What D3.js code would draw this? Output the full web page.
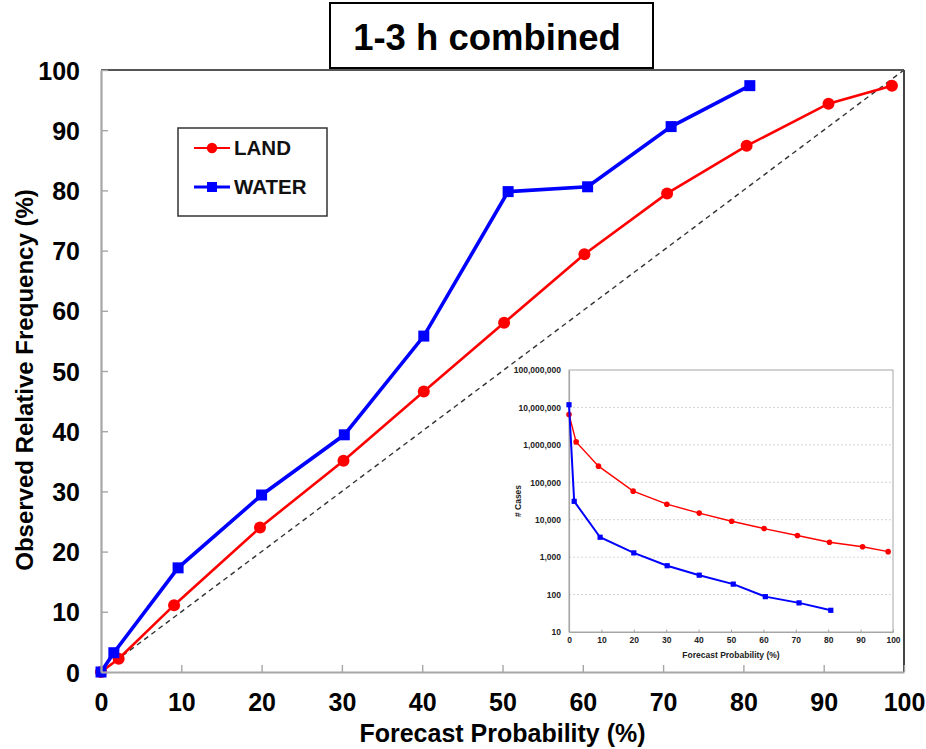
<!DOCTYPE html>
<html>
<head>
<meta charset="utf-8">
<script src="https://cdn.jsdelivr.net/npm/d3@7"></script>
<style>
  html, body { margin: 0; padding: 0; background: #fff; }
  svg { display: block; font-family: Arial, "Liberation Sans", Helvetica, sans-serif; }
</style>
</head>
<body>
<svg id="chart" width="926" height="749"></svg>
<script>
// ---- Reliability data: forecast probability vs observed relative frequency ----
const landProb  = [0, 2.2, 9.1, 19.8, 30.2, 40.2, 50.2, 60.2, 70.5, 80.4, 90.6, 98.5];
const landFreq  = [0, 2.2, 11.1, 24.0, 35.1, 46.6, 58.0, 69.4, 79.5, 87.4, 94.4, 97.4];
const waterProb = [0, 1.6, 9.6, 20.0, 30.3, 40.2, 50.7, 60.6, 71.0, 80.8];
const waterFreq = [0, 3.2, 17.3, 29.4, 39.4, 55.8, 79.8, 80.6, 90.6, 97.4];

// Number of cases per probability bin (inset, log scale)
const landCases  = [6500000, 1200000, 270000, 58000, 26000, 15000, 9100, 5800, 3800, 2500, 1900, 1400];
const waterCases = [11800000, 31000, 3400, 1300, 590, 330, 190, 88, 60, 38];

const mainTicks  = [0, 10, 20, 30, 40, 50, 60, 70, 80, 90, 100];
const insetXTicks = [0, 10, 20, 30, 40, 50, 60, 70, 80, 90, 100];
const insetYTicks = [10, 100, 1000, 10000, 100000, 1000000, 10000000, 100000000];

const seriesNames = ["LAND", "WATER"];
const seriesColors = ["#ff0000", "#0000ff"];

const svg = d3.select("#chart");

// ---- main scales ----
const x = d3.scaleLinear().domain([0, 100]).range([101, 904]);
const y = d3.scaleLinear().domain([0, 100]).range([672, 70]);

// perfect-reliability diagonal
svg.append("line")
  .attr("x1", x(0)).attr("y1", y(0))
  .attr("x2", x(100)).attr("y2", y(100))
  .attr("stroke", "#333").attr("stroke-width", 1.4)
  .attr("stroke-dasharray", "5,4");

const line = d3.line().x(d => x(d[0])).y(d => y(d[1]));

const landPts  = landProb.map((p, i) => [p, landFreq[i]]);
const waterPts = waterProb.map((p, i) => [p, waterFreq[i]]);

// LAND series
svg.append("path").datum(landPts)
  .attr("d", line).attr("fill", "none")
  .attr("stroke", seriesColors[0]).attr("stroke-width", 2.6);
svg.selectAll("circle.land").data(landPts).enter().append("circle")
  .attr("class", "land")
  .attr("cx", d => x(d[0])).attr("cy", d => y(d[1]))
  .attr("r", 6).attr("fill", seriesColors[0]);

// WATER series
svg.append("path").datum(waterPts)
  .attr("d", line).attr("fill", "none")
  .attr("stroke", seriesColors[1]).attr("stroke-width", 3.6);
svg.selectAll("rect.water").data(waterPts).enter().append("rect")
  .attr("class", "water")
  .attr("x", d => x(d[0]) - 5.5).attr("y", d => y(d[1]) - 5.5)
  .attr("width", 11).attr("height", 11).attr("fill", seriesColors[1]);

// ---- inset: number of cases ----
const inset = svg.append("g");
inset.append("rect")
  .attr("x", 515).attr("y", 366).attr("width", 389).attr("height", 305)
  .attr("fill", "#fff");

const ix = d3.scaleLinear().domain([0, 100]).range([569, 893]);
const iy = d3.scaleLog().domain([10, 1e8]).range([632, 370]);

// dashed grid lines at each decade
inset.selectAll("line.grid").data(insetYTicks.slice(1, -1)).enter().append("line")
  .attr("class", "grid")
  .attr("x1", ix(0)).attr("x2", ix(100))
  .attr("y1", d => iy(d)).attr("y2", d => iy(d))
  .attr("stroke", "#c8c8c8").attr("stroke-width", 0.8)
  .attr("stroke-dasharray", "2,2");

// inset frame
inset.append("rect")
  .attr("x", ix(0)).attr("y", iy(1e8))
  .attr("width", ix(100) - ix(0)).attr("height", iy(10) - iy(1e8))
  .attr("fill", "none").attr("stroke", "#a6a6a6").attr("stroke-width", 1);

const ixAxis = inset.append("g")
  .attr("transform", `translate(0,${iy(10)})`)
  .call(d3.axisBottom(ix).tickValues(insetXTicks).tickSize(-2.5).tickSizeOuter(0).tickPadding(5));
const iyAxis = inset.append("g")
  .attr("transform", `translate(${ix(0)},0)`)
  .call(d3.axisLeft(iy).tickValues(insetYTicks).tickFormat(d3.format(",")).tickSize(0).tickPadding(8));
[ixAxis, iyAxis].forEach(g => {
  g.select(".domain").attr("stroke", "#a6a6a6").attr("stroke-width", 1.2);
  g.selectAll(".tick line").attr("stroke", "#a6a6a6");
  g.selectAll(".tick text")
    .attr("fill", "#222").attr("font-size", 8.5).attr("font-weight", "bold")
    .attr("font-family", "Arial, 'Liberation Sans', sans-serif");
});

inset.append("text")
  .attr("x", (ix(0) + ix(100)) / 2).attr("y", 658)
  .attr("text-anchor", "middle").attr("font-size", 8.5).attr("font-weight", "bold")
  .attr("fill", "#222").text("Forecast Probability (%)");
inset.append("text")
  .attr("transform", `translate(521,${(iy(10) + iy(1e8)) / 2}) rotate(-90)`)
  .attr("text-anchor", "middle").attr("font-size", 8.5).attr("font-weight", "bold")
  .attr("fill", "#222").text("# Cases");

const iline = d3.line().x(d => ix(d[0])).y(d => iy(d[1]));
const landCasePts  = landProb.map((p, i) => [p, landCases[i]]);
const waterCasePts = waterProb.map((p, i) => [p, waterCases[i]]);

inset.append("path").datum(landCasePts)
  .attr("d", iline).attr("fill", "none")
  .attr("stroke", seriesColors[0]).attr("stroke-width", 1.4);
inset.selectAll("circle.lc").data(landCasePts).enter().append("circle")
  .attr("class", "lc")
  .attr("cx", d => ix(d[0])).attr("cy", d => iy(d[1]))
  .attr("r", 2.8).attr("fill", seriesColors[0]);

inset.append("path").datum(waterCasePts)
  .attr("d", iline).attr("fill", "none")
  .attr("stroke", seriesColors[1]).attr("stroke-width", 2);
inset.selectAll("rect.wc").data(waterCasePts).enter().append("rect")
  .attr("class", "wc")
  .attr("x", d => ix(d[0]) - 2.6).attr("y", d => iy(d[1]) - 2.6)
  .attr("width", 5.2).attr("height", 5.2).attr("fill", seriesColors[1]);

// ---- main axes and frame ----
svg.append("line")
  .attr("x1", x(0)).attr("x2", x(100)).attr("y1", y(100)).attr("y2", y(100))
  .attr("stroke", "#555").attr("stroke-width", 2);
svg.append("line")
  .attr("x1", x(100)).attr("x2", x(100)).attr("y1", y(100)).attr("y2", y(0))
  .attr("stroke", "#444").attr("stroke-width", 2);

const xAxis = svg.append("g")
  .attr("transform", `translate(0,${y(0)})`)
  .call(d3.axisBottom(x).tickValues(mainTicks).tickSize(-7).tickSizeOuter(0).tickPadding(21));
const yAxis = svg.append("g")
  .attr("transform", `translate(${x(0)},0)`)
  .call(d3.axisLeft(y).tickValues(mainTicks).tickSize(-7).tickSizeOuter(0).tickPadding(21));
[xAxis, yAxis].forEach(g => {
  g.select(".domain").attr("stroke", "#a6a6a6").attr("stroke-width", 2.2);
  g.selectAll(".tick line").attr("stroke", "#a6a6a6").attr("stroke-width", 1.4);
  g.selectAll(".tick text")
    .attr("fill", "#000").attr("font-size", 25).attr("font-weight", "bold")
    .attr("font-family", "Arial, 'Liberation Sans', sans-serif");
});
yAxis.selectAll(".tick text").attr("dy", "0.36em");

svg.append("text")
  .attr("x", (x(0) + x(100)) / 2).attr("y", 742)
  .attr("text-anchor", "middle").attr("font-size", 25).attr("font-weight", "bold")
  .text("Forecast Probability (%)");
svg.append("text")
  .attr("transform", `translate(33,380) rotate(-90)`)
  .attr("text-anchor", "middle").attr("font-size", 24).attr("font-weight", "bold")
  .text("Observed Relative Frequency (%)");

// ---- legend ----
const legend = svg.append("g");
legend.append("rect")
  .attr("x", 178).attr("y", 128).attr("width", 149).attr("height", 88)
  .attr("fill", "#fff").attr("stroke", "#333").attr("stroke-width", 1.5);
const legendRows = [148, 187];
seriesNames.forEach((name, i) => {
  const ly = legendRows[i];
  legend.append("line")
    .attr("x1", 194).attr("x2", 230).attr("y1", ly).attr("y2", ly)
    .attr("stroke", seriesColors[i]).attr("stroke-width", i === 0 ? 2.2 : 3);
  if (i === 0) {
    legend.append("circle").attr("cx", 212).attr("cy", ly).attr("r", 5.2).attr("fill", seriesColors[i]);
  } else {
    legend.append("rect").attr("x", 207).attr("y", ly - 5).attr("width", 10).attr("height", 10)
      .attr("fill", seriesColors[i]);
  }
  legend.append("text")
    .attr("x", 234).attr("y", ly + 7)
    .attr("font-size", 20.5).attr("font-weight", "bold").attr("fill", "#111")
    .text(name);
});

// ---- title box ----
svg.append("rect")
  .attr("x", 330).attr("y", 3).attr("width", 323).attr("height", 65)
  .attr("fill", "#fff").attr("stroke", "#000").attr("stroke-width", 2);
svg.append("text")
  .attr("x", 487).attr("y", 50)
  .attr("text-anchor", "middle").attr("font-size", 36.5).attr("font-weight", "bold")
  .text("1-3 h combined");
</script>
</body>
</html>
